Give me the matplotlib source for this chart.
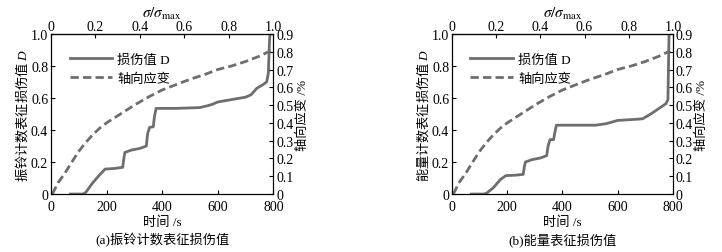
import matplotlib
matplotlib.use("Agg")
import matplotlib.pyplot as plt
from matplotlib.lines import Line2D

plt.rcParams['font.family'] = ['Liberation Serif', 'Noto Sans CJK SC']
plt.rcParams['mathtext.fontset'] = 'custom'
plt.rcParams['mathtext.rm'] = 'Noto Sans CJK SC'
plt.rcParams['mathtext.it'] = 'Liberation Serif:italic'
plt.rcParams['mathtext.default'] = 'it'
plt.rcParams['font.size'] = 10

gray = '#6e6e6e'
t_max = 800

# axial strain (%) - both panels
strain_t = [5, 25, 50, 75, 100, 125, 150, 175, 200, 250, 300, 350, 400, 450, 500, 550, 600, 650, 700, 750, 790]
strain_v = [0, 0.063, 0.117, 0.18, 0.24, 0.29, 0.333, 0.37, 0.40, 0.45, 0.50, 0.545, 0.585, 0.615, 0.645,
            0.67, 0.70, 0.72, 0.745, 0.775, 0.805]

# damage from ringing counts (a)
dmg_a_t = [70, 115, 125, 150, 175, 195, 230, 258, 262, 266, 290, 320, 343, 348, 355, 368, 372, 378, 385,
           450, 535, 560, 580, 600, 650, 700, 720, 740, 760, 776, 782, 784, 786, 788]
dmg_a_v = [0, 0, 0.01, 0.07, 0.12, 0.156, 0.16, 0.167, 0.22, 0.26, 0.275, 0.285, 0.30, 0.38, 0.417, 0.42,
           0.48, 0.535, 0.535, 0.535, 0.54, 0.55, 0.56, 0.575, 0.59, 0.605, 0.62, 0.66, 0.68, 0.70, 0.755,
           0.85, 0.95, 1.0]

# damage from energy (b)
dmg_b_t = [70, 115, 125, 150, 175, 195, 230, 258, 262, 266, 290, 320, 343, 348, 355, 368, 372, 378, 385,
           450, 520, 560, 600, 650, 690, 720, 750, 775, 782, 784, 786]
dmg_b_v = [0, 0, 0.005, 0.04, 0.09, 0.115, 0.118, 0.123, 0.17, 0.20, 0.215, 0.225, 0.24, 0.30, 0.34, 0.34,
           0.38, 0.43, 0.43, 0.43, 0.43, 0.44, 0.46, 0.465, 0.47, 0.50, 0.535, 0.565, 0.59, 0.80, 1.0]

panels = [
    (dmg_a_t, dmg_a_v, '振铃计数表征损伤值', '(a)振铃计数表征损伤值', [0.0706, 0.229, 0.308, 0.633]),
    (dmg_b_t, dmg_b_v, '能量计数表征损伤值', '(b)能量表征损伤值', [0.626, 0.229, 0.306, 0.633]),
]

fig = plt.figure(figsize=(7.22, 2.53), dpi=100)

for d_t, d_v, ylab, caption, rect in panels:
    ax = fig.add_axes(rect)
    ax.plot(d_t, d_v, color=gray, lw=2)
    ax.set_xlim(0, t_max)
    ax.set_ylim(0, 1.0)
    ax.set_xticks([0, 200, 400, 600, 800])
    ax.set_yticks([0, 0.2, 0.4, 0.6, 0.8, 1.0])
    ax.set_yticklabels(['0', '0.2', '0.4', '0.6', '0.8', '1.0'])
    ax.tick_params(direction='in', length=3, pad=2)
    ax.tick_params(axis='x', pad=4)
    ax.set_xlabel('时间 /s', labelpad=2, fontsize=9.5)
    ax.set_ylabel(r'$\mathrm{' + ylab + r'}\ D$', labelpad=1, fontsize=9.5)

    ax2 = ax.twinx()
    ax2.plot(strain_t, strain_v, color=gray, lw=2, dashes=(3, 1.5))
    ax2.set_ylim(0, 0.9)
    ax2.set_yticks([i / 10 for i in range(10)])
    ax2.set_yticklabels(['0'] + ['%.1f' % (i / 10) for i in range(1, 10)])
    ax2.tick_params(direction='in', length=3, pad=2)
    ax2.set_ylabel('轴向应变 /%', labelpad=2, fontsize=9.5)

    top = ax.secondary_xaxis('top', functions=(lambda x: x / t_max, lambda s: s * t_max))
    top.set_xticks([0, 0.2, 0.4, 0.6, 0.8, 1.0])
    top.set_xticklabels(['0', '0.2', '0.4', '0.6', '0.8', '1.0'])
    top.tick_params(direction='in', length=3, pad=1)
    top.set_xlabel(r'$\sigma/\sigma_{\rm max}$', labelpad=2, fontsize=11, math_fontfamily='stix')

    handles = [Line2D([], [], color=gray, lw=2),
               Line2D([], [], color=gray, lw=2, dashes=(3, 1.5))]
    ax.legend(handles, ['损伤值 D', '轴向应变'], loc='upper left', bbox_to_anchor=(0.03, 0.95),
              frameon=False, handlelength=3.2, handletextpad=0.4, labelspacing=0.5, fontsize=9.5)

    fig.text(rect[0] + rect[2] / 2, 0.05, caption, ha='center', va='center', fontsize=9.5)

fig.savefig('out.png', dpi=100)
